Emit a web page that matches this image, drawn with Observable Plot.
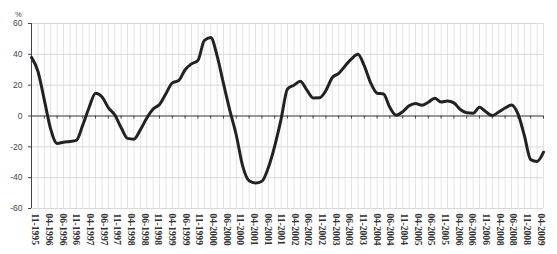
<!DOCTYPE html>
<html>
<head>
<meta charset="utf-8">
<script src="https://cdn.jsdelivr.net/npm/d3@7"></script>
<script src="https://cdn.jsdelivr.net/npm/@observablehq/plot@0.6"></script>
<style>
  html, body { margin: 0; padding: 0; background: #fff; }
</style>
</head>
<body>
<div id="chart"></div>
<script>
// Tick labels along the x axis (as printed in the source)
const xLabels = [
  "11-1995","04-1996","06-1996","11-1996","04-1997","06-1997","11-1997",
  "04-1998","06-1998","11-1998","04-1999","06-1999","11-1999","04-2000",
  "06-2000","11-2000","04-2001","06-2001","11-2001","04-2002","06-2002",
  "11-2002","04-2003","06-2003","11-2003","04-2004","06-2004","11-2004",
  "04-2005","06-2005","11-2005","04-2006","06-2006","11-2006","04-2008",
  "06-2008","11-2008","04-2009"
];

// Series values (%), one reading every 2 months from 11-1995 to 04-2009
const values = [
  38, 29, 10.5, -8.5, -17.8, -17, -16.5, -15.8, -6, 5.5,
  14.8, 12.5, 5.5, 0.8, -7.5, -14.5, -15, -9, -1.5, 4.5,
  7.5, 14.5, 21.5, 23, 30, 33.8, 36, 49, 51, 39,
  21, 3.5, -12.5, -32.5, -42, -43.4, -42.3, -33.5, -19.5, -2,
  17.5, 20, 22.5, 17, 11.7, 11.8, 16.5, 25, 27.6, 32.5,
  37, 40, 32.5, 21.5, 14.8, 14.3, 5.5, 0.5, 2.8, 6.6,
  8.1, 7, 8.9, 11.5, 9.1, 9.8, 8.5, 4.2, 2.1, 1.8,
  5.6, 2.7, 0.3, 2.6, 5.2, 7.2, 1.5, -12.5, -28.3, -29.5,
  -23.5
];

const yTicks = [-60, -40, -20, 0, 20, 40, 60];

const stepMonths = 2;               // spacing of the readings
const nMonths = (values.length - 1) * stepMonths;
const monthTicks = d3.range(0, nMonths + 1, 4);
const monthGrid = d3.range(0, nMonths + 1, 2);
const labelStart = 1.25, labelEnd = 159.1;
const labelStep = (labelEnd - labelStart) / (xLabels.length - 1);

const chart = Plot.plot({
  width: 557,
  height: 254,
  marginLeft: 31,
  marginRight: 14,
  marginTop: 23,
  marginBottom: 46,
  style: { background: "#fff", overflow: "visible" },
  x: { domain: [0, nMonths], axis: null },
  y: { domain: [-60, 60], axis: null },
  marks: [
    Plot.gridX(monthGrid, { stroke: "#e3e3e3", strokeOpacity: 1 }),
    Plot.gridY(yTicks, { stroke: "#d8d8d8", strokeOpacity: 1 }),
    Plot.ruleY([0], { stroke: "#444", strokeWidth: 1 }),
    Plot.ruleX(monthTicks, { y1: 0, y2: -2, stroke: "#444", strokeWidth: 1 }),
    Plot.ruleX([0], { stroke: "#444", strokeWidth: 1 }),
    Plot.axisY(yTicks, {
      tickSize: 3, tickPadding: 6, stroke: "#444",
      fontSize: 8.5, fontFamily: "Liberation Sans, Arial, sans-serif", fill: "#444",
      tickFormat: d => d < 0 ? "-" + Math.abs(d) : String(d)
    }),
    Plot.text(["%"], {
      frameAnchor: "top-left", dx: -16.5, dy: -12,
      fontSize: 7.5, fill: "#444", fontFamily: "Liberation Sans, Arial, sans-serif"
    }),
    Plot.text(xLabels, {
      x: (d, i) => labelStart + i * labelStep,
      y: -60,
      text: d => d,
      rotate: 90,
      textAnchor: "start",
      lineAnchor: "middle",
      dy: 5,
      fontSize: 9.6,
      fontWeight: "bold",
      fontFamily: "Liberation Serif, Times New Roman, serif",
      fill: "#333"
    }),
    Plot.line(values, {
      x: (d, i) => i * stepMonths,
      y: d => d,
      stroke: "#222",
      strokeWidth: 3,
      curve: "monotone-x",
      strokeLinejoin: "round",
      strokeLinecap: "round"
    })
  ]
});
document.getElementById("chart").appendChild(chart);
</script>
</body>
</html>
